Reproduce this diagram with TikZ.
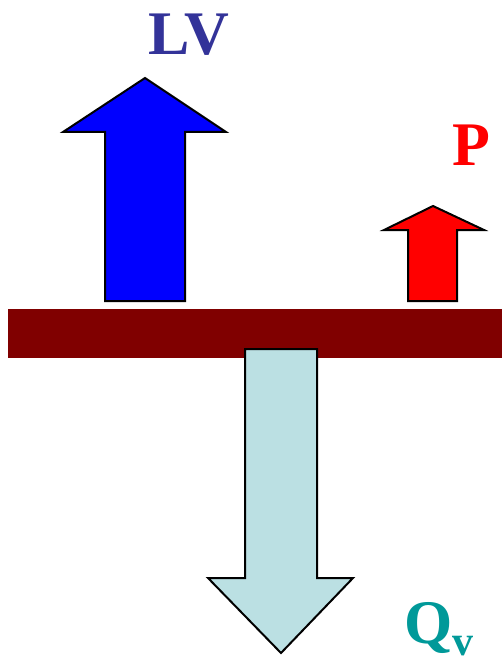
\documentclass[tikz,border=0pt]{standalone}
\usepackage{fontspec}
\setmainfont{Liberation Serif}
\definecolor{barred}{HTML}{800000}
\definecolor{lvblue}{HTML}{333399}
\definecolor{qteal}{HTML}{009999}
\definecolor{qfill}{HTML}{BBE0E3}
\tikzset{
  arrowshape/.style={draw=black, line width=2pt, line join=miter},
  lbl/.style={inner sep=0pt, font=\bfseries\fontsize{62}{62}\selectfont}
}
\begin{document}
\begin{tikzpicture}[x=1pt,y=-1pt]
\useasboundingbox (0,0) rectangle (502,663);
% bar
\fill[barred] (8,309) rectangle (502,358);
% blue arrow
\filldraw[arrowshape, fill=blue] (105,301) -- (105,132) -- (63,132) -- (145,78) -- (226,132) -- (185,132) -- (185,301) -- cycle;
% red arrow
\filldraw[arrowshape, fill=red] (408,301) -- (408,230) -- (384,230) -- (433,206) -- (484,230) -- (457,230) -- (457,301) -- cycle;
% light blue arrow
\filldraw[arrowshape, fill=qfill] (245,349) -- (245,578) -- (208,578) -- (281,653) -- (353,578) -- (317,578) -- (317,349) -- cycle;
% labels
\node[lbl, text=lvblue, anchor=base] (lv) at (189,55) {LV};
\node[lbl, text=qteal, anchor=base west] (q) at (404,643) {Q\raisebox{-0.2em}{\fontsize{42}{42}\selectfont v}};
\node[lbl, text=red, anchor=base] (p) at (471,165) {P};
\end{tikzpicture}
\end{document}
